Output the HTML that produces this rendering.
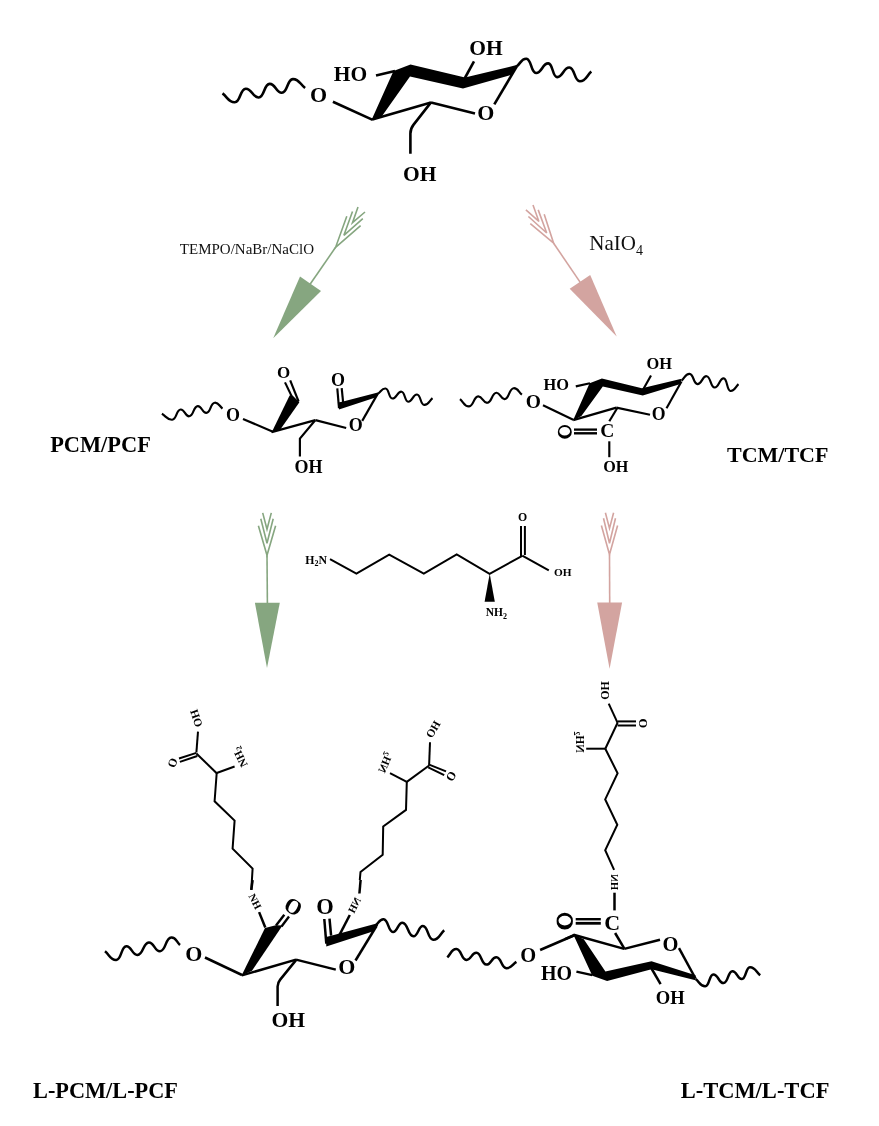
<!DOCTYPE html>
<html><head><meta charset="utf-8"><style>
html,body{margin:0;padding:0;background:#fff;}
svg{display:block;will-change:transform;}
</style></head><body>
<svg width="879" height="1126" viewBox="0 0 879 1126">
<rect width="879" height="1126" fill="#fff"/>
<path d="M222.5,93.4 C227.4,97 228.7,102.7 234.8,102.3 C240.7,101.9 239.8,89.1 245.7,88.7 C251.9,88.3 252.5,97.9 258.7,97.5 C264.6,97.1 263.7,84.3 269.6,83.9 C275.4,83.5 276.1,93.2 281.9,92.8 C287.8,92.4 286.9,79.5 292.8,79.1 C298.9,78.7 300.2,84.4 305.1,88" fill="none" stroke="#000" stroke-width="2.6" stroke-linecap="butt" stroke-linejoin="round"/>
<text x="318.6" y="101.5" font-family="Liberation Serif" font-size="22" font-weight="bold" text-anchor="middle" fill="#000">O</text>
<line x1="332.9" y1="101.7" x2="372.7" y2="119.9" stroke="#000" stroke-width="2.6" stroke-linecap="butt"/>
<text x="350.5" y="80.8" font-family="Liberation Serif" font-size="21.5" font-weight="bold" text-anchor="middle" fill="#000">HO</text>
<line x1="376" y1="75.5" x2="395" y2="71" stroke="#000" stroke-width="2.6" stroke-linecap="butt"/>
<polygon points="371.5,120 393.5,71 410.5,64.5 465,77.6 517.6,64.8 511,75 463,88.6 410,76.5 381,117.5" fill="#000"/>
<line x1="372.3" y1="119.4" x2="431" y2="102.4" stroke="#000" stroke-width="2.6" stroke-linecap="butt"/>
<line x1="431" y1="102.4" x2="475" y2="113.6" stroke="#000" stroke-width="2.6" stroke-linecap="butt"/>
<text x="485.8" y="119.7" font-family="Liberation Serif" font-size="22" font-weight="bold" text-anchor="middle" fill="#000">O</text>
<line x1="494.3" y1="104.4" x2="517" y2="66" stroke="#000" stroke-width="2.6" stroke-linecap="butt"/>
<path d="M431,102.4 L413.6,124.6 Q410.4,128.6 410.4,133.5 L410.4,153.8" fill="none" stroke="#000" stroke-width="2.6"/>
<text x="419.7" y="181.2" font-family="Liberation Serif" font-size="21.5" font-weight="bold" text-anchor="middle" fill="#000">OH</text>
<line x1="463.8" y1="80" x2="474" y2="61.4" stroke="#000" stroke-width="2.6" stroke-linecap="butt"/>
<text x="486" y="54.5" font-family="Liberation Serif" font-size="21.5" font-weight="bold" text-anchor="middle" fill="#000">OH</text>
<path d="M516.9,66.2 C520.7,63.2 521.6,58.3 526.4,58.7 C531.7,59.1 530.7,72.6 536,73 C541.8,73.4 542.5,63 548.3,63.4 C553.2,63.8 552.2,76.7 557.1,77.1 C562.9,77.5 563.6,67.1 569.4,67.5 C575,67.9 574.1,80.8 579.7,81.2 C585.7,81.6 586.7,75.4 591.3,71.6" fill="none" stroke="#000" stroke-width="2.6" stroke-linecap="butt" stroke-linejoin="round"/>
<line x1="335.6" y1="247.3" x2="309.4" y2="285.3" stroke="#86a680" stroke-width="1.6" stroke-linecap="butt"/>
<polyline points="346.8,216.2 335.6,247.3 360.6,225.7" fill="none" stroke="#86a680" stroke-width="1.6" stroke-linejoin="miter" stroke-linecap="butt"/>
<polyline points="352.5,211.6 343.9,235.3 362.8,218.6" fill="none" stroke="#86a680" stroke-width="1.6" stroke-linejoin="miter" stroke-linecap="butt"/>
<polyline points="358,207.1 352.5,222.7 365,212" fill="none" stroke="#86a680" stroke-width="1.6" stroke-linejoin="miter" stroke-linecap="butt"/>
<polygon points="300,276.4 321,290.9 273.2,338.3" fill="#86a680"/>
<line x1="553.6" y1="243.2" x2="581.1" y2="283.6" stroke="#d3a4a0" stroke-width="1.6" stroke-linecap="butt"/>
<polyline points="530.3,223.7 553.6,243.2 544.2,214.3" fill="none" stroke="#d3a4a0" stroke-width="1.6" stroke-linejoin="miter" stroke-linecap="butt"/>
<polyline points="528.4,216.5 546.7,233 538.2,209.9" fill="none" stroke="#d3a4a0" stroke-width="1.6" stroke-linejoin="miter" stroke-linecap="butt"/>
<polyline points="525.9,209.9 538.9,221.4 533,205.1" fill="none" stroke="#d3a4a0" stroke-width="1.6" stroke-linejoin="miter" stroke-linecap="butt"/>
<polygon points="569.7,288.7 590.2,275.1 616.7,336.5" fill="#d3a4a0"/>
<line x1="267" y1="555.3" x2="267.4" y2="604.8" stroke="#86a680" stroke-width="1.6" stroke-linecap="butt"/>
<polyline points="258.4,525.7 267,555.3 275.6,525.7" fill="none" stroke="#86a680" stroke-width="1.6" stroke-linejoin="miter" stroke-linecap="butt"/>
<polyline points="260.8,518.7 267,543.3 273.2,518.7" fill="none" stroke="#86a680" stroke-width="1.6" stroke-linejoin="miter" stroke-linecap="butt"/>
<polyline points="262.7,512.9 267,529.3 271.3,512.9" fill="none" stroke="#86a680" stroke-width="1.6" stroke-linejoin="miter" stroke-linecap="butt"/>
<polygon points="254.9,602.8 279.8,602.8 267,668" fill="#86a680"/>
<line x1="609.5" y1="554.5" x2="609.7" y2="604.4" stroke="#d3a4a0" stroke-width="1.6" stroke-linecap="butt"/>
<polyline points="601.4,525.5 609.5,554.5 617.6,525.5" fill="none" stroke="#d3a4a0" stroke-width="1.6" stroke-linejoin="miter" stroke-linecap="butt"/>
<polyline points="603.5,518.3 609.5,543.3 615.5,518.3" fill="none" stroke="#d3a4a0" stroke-width="1.6" stroke-linejoin="miter" stroke-linecap="butt"/>
<polyline points="605.4,512.7 609.5,528.4 613.6,512.7" fill="none" stroke="#d3a4a0" stroke-width="1.6" stroke-linejoin="miter" stroke-linecap="butt"/>
<polygon points="597.2,602.4 622.1,602.4 609.6,668.8" fill="#d3a4a0"/>
<text x="246.9" y="253.7" font-family="Liberation Serif" font-size="15" font-weight="normal" text-anchor="middle" fill="#111">TEMPO/NaBr/NaClO</text>
<text x="589.3" y="250.3" font-family="Liberation Serif" font-size="21" fill="#111">NaIO<tspan font-size="14" dy="5">4</tspan></text>
<text x="100.5" y="452.3" font-family="Liberation Serif" font-size="22.4" font-weight="bold" text-anchor="middle" fill="#000">PCM/PCF</text>
<text x="777.7" y="462.3" font-family="Liberation Serif" font-size="22" font-weight="bold" text-anchor="middle" fill="#000">TCM/TCF</text>
<text x="105.5" y="1098.4" font-family="Liberation Serif" font-size="22.3" font-weight="bold" text-anchor="middle" fill="#000">L-PCM/L-PCF</text>
<text x="755" y="1098" font-family="Liberation Serif" font-size="22.5" font-weight="bold" text-anchor="middle" fill="#000">L-TCM/L-TCF</text>
<path d="M161.9,413.8 C166,416.2 167.5,420.1 172.2,419.7 C176.9,419.3 176,409.9 180.7,409.5 C184.6,409.2 185.3,416.6 189.2,416.3 C193.9,415.9 193.1,406.5 197.8,406.1 C201.7,405.8 202.4,413.2 206.3,412.9 C211,412.5 210.1,403.1 214.8,402.7 C218.7,402.4 219.4,406.2 222.5,408.6" fill="none" stroke="#000" stroke-width="2.15" stroke-linecap="butt" stroke-linejoin="round"/>
<text x="233.1" y="421.4" font-family="Liberation Serif" font-size="18" font-weight="bold" text-anchor="middle" fill="#000">O</text>
<line x1="243" y1="418.9" x2="272.9" y2="431.7" stroke="#000" stroke-width="2.15" stroke-linecap="butt"/>
<polygon points="271.6,432.4 289.6,395.5 291.8,394.8 299.4,402.2 280.5,429.3" fill="#000"/>
<line x1="285" y1="382.4" x2="291.4" y2="395.6" stroke="#000" stroke-width="2.15" stroke-linecap="butt"/>
<line x1="290.2" y1="380.4" x2="298.6" y2="401.5" stroke="#000" stroke-width="2.15" stroke-linecap="butt"/>
<text x="283.7" y="378.1" font-family="Liberation Serif" font-size="17" font-weight="bold" text-anchor="middle" fill="#000">O</text>
<line x1="271.6" y1="432.1" x2="315.4" y2="420.1" stroke="#000" stroke-width="2.15" stroke-linecap="butt"/>
<line x1="315.4" y1="420.1" x2="346.2" y2="428" stroke="#000" stroke-width="2.15" stroke-linecap="butt"/>
<text x="355.7" y="430.5" font-family="Liberation Serif" font-size="18" font-weight="bold" text-anchor="middle" fill="#000">O</text>
<line x1="362.2" y1="420.9" x2="377.8" y2="393.6" stroke="#000" stroke-width="2.15" stroke-linecap="butt"/>
<polyline points="315,420.5 299.9,438.6 299.9,456.5" fill="none" stroke="#000" stroke-width="2.15" stroke-linejoin="miter" stroke-linecap="butt"/>
<text x="308.5" y="472.5" font-family="Liberation Serif" font-size="18" font-weight="bold" text-anchor="middle" fill="#000">OH</text>
<polygon points="339,409.4 338.3,402.5 343.1,401.6 377.8,392.6 378.3,394.6 375.5,397.6" fill="#000"/>
<line x1="337.3" y1="388.4" x2="339" y2="408.2" stroke="#000" stroke-width="2.15" stroke-linecap="butt"/>
<line x1="341.7" y1="388.1" x2="343.1" y2="402.1" stroke="#000" stroke-width="2.15" stroke-linecap="butt"/>
<text x="338" y="385.9" font-family="Liberation Serif" font-size="18" font-weight="bold" text-anchor="middle" fill="#000">O</text>
<path d="M378,393.7 C381,391.6 381.9,388.2 385.5,388.5 C389.3,388.8 388.5,398.2 392.3,398.5 C396.6,398.8 397.2,391.4 401.5,391.7 C405.2,392 404.5,401.4 408.2,401.7 C412.3,402 412.9,394.2 417,394.5 C421,394.8 420.2,404.6 424.2,404.9 C428.5,405.2 429.2,400.8 432.5,398.1" fill="none" stroke="#000" stroke-width="2.15" stroke-linecap="butt" stroke-linejoin="round"/>
<path d="M460,399.1 C463.6,402 464.4,406.7 469.1,406.4 C474,406 473.3,396.8 478.2,396.4 C482.5,396.1 483,403.1 487.3,402.8 C492.2,402.4 491.5,393.2 496.4,392.8 C500.3,392.5 500.7,399.4 504.6,399.1 C509.5,398.7 508.8,388.6 513.7,388.2 C517.8,387.9 518.6,392 521.9,394.6" fill="none" stroke="#000" stroke-width="2.15" stroke-linecap="butt" stroke-linejoin="round"/>
<text x="533.3" y="407.6" font-family="Liberation Serif" font-size="19.5" font-weight="bold" text-anchor="middle" fill="#000">O</text>
<line x1="543" y1="405.3" x2="573.2" y2="419.7" stroke="#000" stroke-width="2.15" stroke-linecap="butt"/>
<text x="556.3" y="389.9" font-family="Liberation Serif" font-size="16.4" font-weight="bold" text-anchor="middle" fill="#000">HO</text>
<line x1="575.8" y1="386.4" x2="590" y2="383.2" stroke="#000" stroke-width="2.15" stroke-linecap="butt"/>
<polygon points="573,420.5 589.6,383.3 601.9,378.4 641.9,388.2 681.5,378.8 680.5,384 642.8,395.5 602.8,386.6 581.4,416" fill="#000"/>
<line x1="573.2" y1="420.1" x2="616.4" y2="407.6" stroke="#000" stroke-width="2.15" stroke-linecap="butt"/>
<line x1="616.4" y1="407.6" x2="650" y2="414.8" stroke="#000" stroke-width="2.15" stroke-linecap="butt"/>
<text x="658.7" y="419.9" font-family="Liberation Serif" font-size="17.8" font-weight="bold" text-anchor="middle" fill="#000">O</text>
<line x1="666.5" y1="408.2" x2="681.5" y2="381.5" stroke="#000" stroke-width="2.15" stroke-linecap="butt"/>
<line x1="643.7" y1="388.6" x2="651" y2="375.5" stroke="#000" stroke-width="2.15" stroke-linecap="butt"/>
<text x="659.2" y="369" font-family="Liberation Serif" font-size="16.4" font-weight="bold" text-anchor="middle" fill="#000">OH</text>
<path d="M681.6,380.7 C684.8,378 685.4,373.6 689.6,373.9 C693.8,374.2 693.3,383.8 697.5,384.1 C701.8,384.4 702.3,375.9 706.6,376.2 C710.9,376.5 710.3,387.2 714.6,387.5 C718.9,387.8 719.4,378.1 723.7,378.4 C727.5,378.6 726.7,390.8 730.5,391 C734.7,391.3 735.3,386.9 738.5,384.1" fill="none" stroke="#000" stroke-width="2.15" stroke-linecap="butt" stroke-linejoin="round"/>
<line x1="617.3" y1="408" x2="609.3" y2="421.3" stroke="#000" stroke-width="2.15" stroke-linecap="butt"/>
<text x="607.3" y="437.4" font-family="Liberation Serif" font-size="19.5" font-weight="bold" text-anchor="middle" fill="#000">C</text>
<path d="M557.8,431.9 a7,6.8 0 1,0 14,0 a7,6.8 0 1,0 -14,0 Z M559.3,431.2 a5.4,4.3 0 1,0 10.8,0 a5.4,4.3 0 1,0 -10.8,0 Z" fill="#000" fill-rule="evenodd"/>
<line x1="574" y1="429.6" x2="597" y2="429.6" stroke="#000" stroke-width="2.3" stroke-linecap="butt"/>
<line x1="574" y1="433.3" x2="597" y2="433.3" stroke="#000" stroke-width="2.4" stroke-linecap="butt"/>
<line x1="609.3" y1="441.3" x2="609.3" y2="457.2" stroke="#000" stroke-width="2.15" stroke-linecap="butt"/>
<text x="615.8" y="471.9" font-family="Liberation Serif" font-size="16.2" font-weight="bold" text-anchor="middle" fill="#000">OH</text>
<text x="305.2" y="563.8" font-family="Liberation Serif" font-size="11.8" font-weight="bold">H<tspan font-size="8" dy="2.5">2</tspan><tspan dy="-2.5">N</tspan></text>
<polyline points="330,559.1 356.4,573.7 389.2,554.6 423.8,573.7 456.7,554.5 489.6,573.9 522.7,555.6" fill="none" stroke="#000" stroke-width="2.0" stroke-linejoin="miter" stroke-linecap="butt"/>
<polygon points="489.7,573.8 484.6,601.7 494.8,601.7" fill="#000"/>
<text x="485.7" y="615.6" font-family="Liberation Serif" font-size="11.5" font-weight="bold">NH<tspan font-size="8" dy="3">2</tspan></text>
<line x1="522.7" y1="555.8" x2="548.8" y2="570.4" stroke="#000" stroke-width="2.0" stroke-linecap="butt"/>
<line x1="521" y1="526" x2="521" y2="556.2" stroke="#000" stroke-width="2.0" stroke-linecap="butt"/>
<line x1="524.9" y1="526" x2="524.9" y2="555" stroke="#000" stroke-width="2.0" stroke-linecap="butt"/>
<text x="522.6" y="520.8" font-family="Liberation Serif" font-size="11.8" font-weight="bold" text-anchor="middle" fill="#000">O</text>
<text x="562.8" y="575.5" font-family="Liberation Serif" font-size="11.3" font-weight="bold" text-anchor="middle" fill="#000">OH</text>
<path d="M105,951.3 C109.5,954.8 110.6,960.5 116.3,960 C121.8,959.5 120.8,946.8 126.3,946.3 C131.5,945.9 132.3,955.4 137.5,955 C143.6,954.5 142.7,943 148.8,942.5 C154,942.1 154.8,951.7 160,951.3 C166.2,950.8 165.1,938 171.3,937.5 C175.9,937.1 176.5,942 180,945" fill="none" stroke="#000" stroke-width="2.5" stroke-linecap="butt" stroke-linejoin="round"/>
<text x="193.8" y="960.9" font-family="Liberation Serif" font-size="22" font-weight="bold" text-anchor="middle" fill="#000">O</text>
<line x1="205" y1="957.5" x2="242" y2="975" stroke="#000" stroke-width="2.5" stroke-linecap="butt"/>
<polygon points="241.6,975.6 265,928 268,927.2 275.8,925.3 282.5,925.5 252,970.8" fill="#000"/>
<line x1="276" y1="925.6" x2="284.3" y2="914.8" stroke="#000" stroke-width="2.4" stroke-linecap="butt"/>
<line x1="281.5" y1="926.5" x2="289" y2="916.5" stroke="#000" stroke-width="2.4" stroke-linecap="butt"/>
<text x="293.1" y="914.1" font-family="Liberation Serif" font-size="22" font-weight="bold" text-anchor="middle" fill="#000" transform="rotate(30 293.1 907)">O</text>
<line x1="259.1" y1="912.1" x2="265.3" y2="927.5" stroke="#000" stroke-width="2.5" stroke-linecap="butt"/>
<text x="254.8" y="905" font-family="Liberation Serif" font-size="10.5" font-weight="bold" text-anchor="middle" fill="#000" transform="rotate(63.4 254.8 901.6)">NH</text>
<line x1="251.3" y1="889.9" x2="252.6" y2="880" stroke="#000" stroke-width="2.5" stroke-linecap="butt"/>
<line x1="241.8" y1="975.4" x2="296" y2="959.6" stroke="#000" stroke-width="2.5" stroke-linecap="butt"/>
<line x1="296" y1="959.6" x2="335.8" y2="969.6" stroke="#000" stroke-width="2.5" stroke-linecap="butt"/>
<text x="346.9" y="973.6" font-family="Liberation Serif" font-size="22" font-weight="bold" text-anchor="middle" fill="#000">O</text>
<path d="M296.4,959.6 L280.2,979.6 Q277.6,982.8 277.6,986.5 L277.6,1006" fill="none" stroke="#000" stroke-width="2.5"/>
<text x="288.2" y="1027" font-family="Liberation Serif" font-size="21.6" font-weight="bold" text-anchor="middle" fill="#000">OH</text>
<text x="325.1" y="914.3" font-family="Liberation Serif" font-size="22.5" font-weight="bold" text-anchor="middle" fill="#000">O</text>
<line x1="324.3" y1="919" x2="326.3" y2="943.7" stroke="#000" stroke-width="2.5" stroke-linecap="butt"/>
<line x1="329.5" y1="918.6" x2="331.1" y2="935.7" stroke="#000" stroke-width="2.5" stroke-linecap="butt"/>
<polygon points="326.3,946.6 326,937 331.1,935.7 377.5,923.3 378,925.5 373.5,931.3" fill="#000"/>
<line x1="339.5" y1="934.9" x2="349.8" y2="915" stroke="#000" stroke-width="2.5" stroke-linecap="butt"/>
<text x="354.6" y="908.7" font-family="Liberation Serif" font-size="10.5" font-weight="bold" text-anchor="middle" fill="#000" transform="rotate(-63.4 354.6 905.3) translate(354.6 905.3) scale(-1 1) translate(-354.6 -905.3)">NH</text>
<line x1="359.4" y1="893.5" x2="360.6" y2="880" stroke="#000" stroke-width="2.5" stroke-linecap="butt"/>
<line x1="376.5" y1="926" x2="355.5" y2="960.5" stroke="#000" stroke-width="2.5" stroke-linecap="butt"/>
<path d="M376,925.2 C379,922.8 379.7,918.9 383.6,919.2 C388.7,919.6 387.9,931.6 393,932 C397.3,932.3 398.1,922.4 402.4,922.7 C408.4,923.2 407.5,935.8 413.5,936.3 C417.8,936.6 418.6,925.8 422.9,926.1 C428.5,926.5 427.5,939.3 433.1,939.7 C438.9,940.1 439.8,934.1 444.2,930.3" fill="none" stroke="#000" stroke-width="2.5" stroke-linecap="butt" stroke-linejoin="round"/>
<polyline points="251.3,890 252.6,868.6 232.6,848.6 234.6,820.6 214.6,801.3 216.7,773" fill="none" stroke="#000" stroke-width="2.0" stroke-linejoin="miter" stroke-linecap="butt"/>
<line x1="216.7" y1="773" x2="234.6" y2="766.5" stroke="#000" stroke-width="2.0" stroke-linecap="butt"/>
<text x="240.2" y="760.6" font-family="Liberation Serif" font-size="11.2" font-weight="bold" text-anchor="middle" fill="#000" transform="rotate(-116.6 240.2 757)">NH<tspan font-size="8" dy="2">2</tspan></text>
<line x1="216.7" y1="773.2" x2="196.4" y2="753.5" stroke="#000" stroke-width="2.0" stroke-linecap="butt"/>
<line x1="196.4" y1="752.3" x2="198" y2="731.7" stroke="#000" stroke-width="2.0" stroke-linecap="butt"/>
<text x="196.4" y="722" font-family="Liberation Serif" font-size="11.5" font-weight="bold" text-anchor="middle" fill="#000" transform="rotate(-109 196.4 718.3)">OH</text>
<line x1="196.4" y1="752.9" x2="179" y2="758.5" stroke="#000" stroke-width="2.0" stroke-linecap="butt"/>
<line x1="197.3" y1="756" x2="179.9" y2="761.9" stroke="#000" stroke-width="2.0" stroke-linecap="butt"/>
<text x="172.6" y="766.7" font-family="Liberation Serif" font-size="12" font-weight="bold" text-anchor="middle" fill="#000" transform="rotate(-70 172.6 762.8)">O</text>
<polyline points="359.8,880 360.5,871.9 382.7,854.8 383.2,826.4 406,809.9 406.8,781.9" fill="none" stroke="#000" stroke-width="2.0" stroke-linejoin="miter" stroke-linecap="butt"/>
<line x1="406.8" y1="781.9" x2="390" y2="773.2" stroke="#000" stroke-width="2.0" stroke-linecap="butt"/>
<text x="385.4" y="766.2" font-family="Liberation Serif" font-size="11.2" font-weight="bold" text-anchor="middle" fill="#000" transform="rotate(112.8 385.4 762.6) translate(385.4 762.6) scale(-1 1) translate(-385.4 -762.6)">NH<tspan font-size="8" dy="2">2</tspan></text>
<line x1="406.8" y1="781.9" x2="429.1" y2="765.5" stroke="#000" stroke-width="2.0" stroke-linecap="butt"/>
<line x1="429.1" y1="765.5" x2="430" y2="742.3" stroke="#000" stroke-width="2.0" stroke-linecap="butt"/>
<text x="433.2" y="733" font-family="Liberation Serif" font-size="11.3" font-weight="bold" text-anchor="middle" fill="#000" transform="rotate(-60 433.2 729.3)">OH</text>
<line x1="429.1" y1="764.6" x2="446" y2="771.4" stroke="#000" stroke-width="2.0" stroke-linecap="butt"/>
<line x1="428.2" y1="767.3" x2="444.2" y2="775.1" stroke="#000" stroke-width="2.0" stroke-linecap="butt"/>
<text x="451.3" y="780.2" font-family="Liberation Serif" font-size="12" font-weight="bold" text-anchor="middle" fill="#000" transform="rotate(-60 451.3 776.3)">O</text>
<path d="M447.3,957.3 C450.9,954 451.5,948.8 456.4,949.1 C461.7,949.5 461.1,959.6 466.4,960 C471.1,960.3 471.7,952.5 476.4,952.8 C481.8,953.2 481,964.2 486.4,964.6 C491.1,964.9 491.7,957 496.4,957.3 C501.7,957.7 501.1,967.8 506.4,968.2 C511.1,968.5 512.4,964.4 516.4,961.9" fill="none" stroke="#000" stroke-width="2.5" stroke-linecap="butt" stroke-linejoin="round"/>
<text x="528.3" y="962.3" font-family="Liberation Serif" font-size="20.5" font-weight="bold" text-anchor="middle" fill="#000">O</text>
<line x1="540.1" y1="950" x2="573.8" y2="935.5" stroke="#000" stroke-width="2.5" stroke-linecap="butt"/>
<polygon points="573.3,934.5 583.8,939.3 605.4,971.4 651.5,961.2 695.5,975.2 695.5,980.3 651.5,969.2 607.1,980.9 592.3,975.8" fill="#000"/>
<line x1="565" y1="939.2" x2="574.5" y2="935" stroke="#000" stroke-width="2.5" stroke-linecap="butt"/>
<line x1="573.5" y1="934.7" x2="624.2" y2="948.9" stroke="#000" stroke-width="2.5" stroke-linecap="butt"/>
<line x1="624.2" y1="948.9" x2="660" y2="939.8" stroke="#000" stroke-width="2.5" stroke-linecap="butt"/>
<text x="670.6" y="950.8" font-family="Liberation Serif" font-size="20.5" font-weight="bold" text-anchor="middle" fill="#000">O</text>
<line x1="679" y1="948.1" x2="695.5" y2="978.5" stroke="#000" stroke-width="2.5" stroke-linecap="butt"/>
<line x1="624.2" y1="948.4" x2="615.1" y2="933" stroke="#000" stroke-width="2.5" stroke-linecap="butt"/>
<text x="612.2" y="929.8" font-family="Liberation Serif" font-size="22" font-weight="bold" text-anchor="middle" fill="#000">C</text>
<line x1="614.5" y1="892.7" x2="614.5" y2="910.4" stroke="#000" stroke-width="2.5" stroke-linecap="butt"/>
<line x1="575.7" y1="919.2" x2="600.8" y2="919.2" stroke="#000" stroke-width="2.4" stroke-linecap="butt"/>
<line x1="575.7" y1="923.3" x2="600.8" y2="923.3" stroke="#000" stroke-width="2.8" stroke-linecap="butt"/>
<path d="M556.6,921.1 a8.2,7.5 0 1,0 16.3,0 a8.2,7.5 0 1,0 -16.3,0 Z M558.5,920.6 a6.3,4.9 0 1,0 12.6,0 a6.3,4.9 0 1,0 -12.6,0 Z" fill="#000" fill-rule="evenodd"/>
<line x1="576.4" y1="971.6" x2="592.3" y2="975.1" stroke="#000" stroke-width="2.5" stroke-linecap="butt"/>
<text x="556.6" y="979.7" font-family="Liberation Serif" font-size="20" font-weight="bold" text-anchor="middle" fill="#000">HO</text>
<line x1="651.5" y1="968.5" x2="660.6" y2="984.2" stroke="#000" stroke-width="2.5" stroke-linecap="butt"/>
<text x="670.3" y="1003.5" font-family="Liberation Serif" font-size="18.6" font-weight="bold" text-anchor="middle" fill="#000">OH</text>
<path d="M695.7,979.1 C699.5,982 700.5,986.6 705.3,986.3 C709.6,986 709,974.7 713.3,974.4 C718.2,974.1 718.7,983.4 723.6,983.1 C728.3,982.8 727.7,971.5 732.4,971.2 C736.9,970.9 737.4,979.4 741.9,979.1 C746.2,978.8 745.6,967.5 749.9,967.2 C755.1,966.9 756.1,972 760.2,975.2" fill="none" stroke="#000" stroke-width="2.5" stroke-linecap="butt" stroke-linejoin="round"/>
<text x="614.7" y="885.6" font-family="Liberation Serif" font-size="10.5" font-weight="bold" text-anchor="middle" fill="#000" transform="rotate(-90 614.7 882.2) translate(614.7 882.2) scale(-1 1) translate(-614.7 -882.2)">NH</text>
<polyline points="614.1,869.9 605.2,850.2 617.3,824.8 605.2,799.4 617.6,773.3 605.3,748.7" fill="none" stroke="#000" stroke-width="2.0" stroke-linejoin="miter" stroke-linecap="butt"/>
<line x1="605.3" y1="748.7" x2="586.2" y2="748.7" stroke="#000" stroke-width="2.0" stroke-linecap="butt"/>
<text x="580" y="745.7" font-family="Liberation Serif" font-size="11.5" font-weight="bold" text-anchor="middle" fill="#000" transform="rotate(90 580 742) translate(580 742) scale(-1 1) translate(-580 -742)">NH<tspan font-size="8" dy="2">2</tspan></text>
<line x1="605.3" y1="748.7" x2="617.6" y2="722.8" stroke="#000" stroke-width="2.0" stroke-linecap="butt"/>
<line x1="617.6" y1="722.8" x2="608.7" y2="703.7" stroke="#000" stroke-width="2.0" stroke-linecap="butt"/>
<text x="605.3" y="694.3" font-family="Liberation Serif" font-size="12" font-weight="bold" text-anchor="middle" fill="#000" transform="rotate(-90 605.3 690.4)">OH</text>
<line x1="617.6" y1="721.4" x2="636" y2="721.4" stroke="#000" stroke-width="2.0" stroke-linecap="butt"/>
<line x1="617.6" y1="725.5" x2="636" y2="725.5" stroke="#000" stroke-width="2.0" stroke-linecap="butt"/>
<text x="642.8" y="727.6" font-family="Liberation Serif" font-size="12.5" font-weight="bold" text-anchor="middle" fill="#000" transform="rotate(90 642.8 723.5)">O</text>
</svg>
</body></html>
